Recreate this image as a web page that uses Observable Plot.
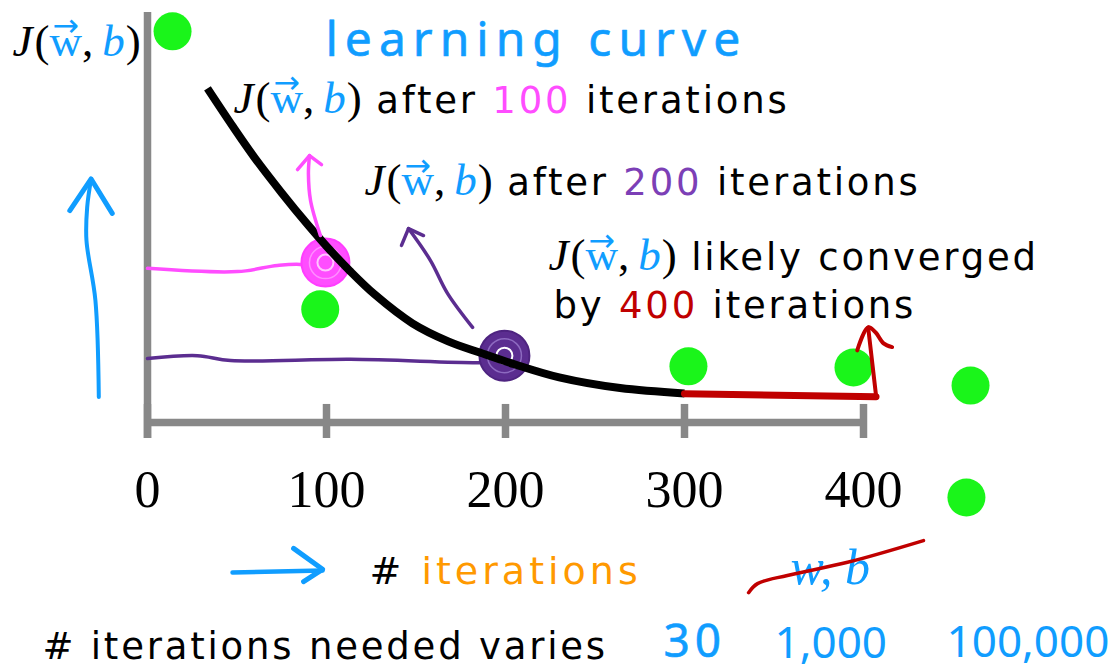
<!DOCTYPE html>
<html>
<head>
<meta charset="utf-8">
<script src="https://cdn.jsdelivr.net/npm/d3@7"></script>
<script src="https://cdn.jsdelivr.net/npm/@observablehq/plot@0.6"></script>
<style>
  html, body { margin: 0; padding: 0; background: #fff; }
  svg { display: block; }
</style>
</head>
<body>
<script>
// ---- iterations axis ----
const xTicks = [0, 100, 200, 300, 400];

// ---- learning curve: cost J(w,b) against # iterations ----
const curveIter = [33.5, 48, 60, 75, 90, 100, 113, 127, 148, 168, 186, 205, 230, 264, 300];
const curveCost = [8.15, 7.2, 6.45, 5.6, 4.8, 4.3, 3.7, 3.12, 2.42, 1.98, 1.7, 1.42, 1.1, 0.84, 0.71];

// flat tail once the cost has converged
const flatTail = [[300, 0.70], [407, 0.63]];
const flatArrow = [[407, 0.66], [402.6, 2.32]];
const flatArrowHead = [[396.5, 1.76], [402.6, 2.32], [406.7, 2.2], [411.2, 1.93], [416, 1.84]];

// checkpoints marked on the curve
const pinkCheck = [[99.4, 3.90]];
const purpleCheck = [[199.4, 1.63]];

// hand-drawn guides from the checkpoints back to the cost axis
const pinkGuide = [[0, 3.76], [50.3, 3.68], [72.6, 3.83], [87.2, 3.85], [103.9, 3.68]];
const purpleGuide = [[0, 1.56], [27.9, 1.63], [46.4, 1.51], [113.4, 1.54], [186, 1.46], [197.2, 1.49]];
const pinkArrow = [[96.6, 4.56], [91.1, 5.41], [89.9, 6.07], [90.5, 6.51]];
const pinkArrowHead = [[83.8, 6.17], [90.5, 6.51], [97.2, 6.29]];
const purpleArrow = [[181.6, 2.32], [167.6, 3.15], [158.1, 3.95], [145.8, 4.73]];
const purpleArrowHead = [[141.9, 4.32], [145.8, 4.73], [154.2, 4.56]];

// axis direction arrows
const costArrow = [[-27.2, 0.62], [-29.1, 2.98], [-34.1, 4.44], [-33.7, 5.25], [-31.5, 5.94]];
const costArrowHead = [[-43.4, 5.17], [-31.5, 5.94], [-19.7, 5.10]];
const iterArrow = [[47.5, -3.66], [97.8, -3.61]];
const iterArrowHead = [[81.6, -3.07], [97.8, -3.58], [87.2, -3.88]];

// strike-through over "w, b"
const strike = [[335.8, -4.15], [340.8, -3.93], [357.5, -3.73], [391.1, -3.41], [433.5, -2.88]];

// green dots
const dotIter = [14, 96.5, 302.2, 394.4, 459.8, 457.5];
const dotCost = [9.54, 2.76, 1.37, 1.34, 0.90, -1.83];

// axis extents
const costAxisSpan = [-0.39, 10];
const tickSpan = [-0.39, 0.44];
const tickLabelCost = -2.07;

// ---- text ----
const noteIter = [48, 121.2, 224, 226.8, -58.7];
const noteCost = [7.56, 5.54, 3.71, 2.54, -5.76];
const noteText = [
  "{J} after {pink:100} iterations",
  "{J} after {purple:200} iterations",
  "{J} likely converged",
  "by {red:400} iterations",
  "# iterations needed varies"
];
const costLabel = {iter: -75.4, cost: 8.95, text: "{J}"};
const axisTitle = {iter: 124, cost: -3.93, text: "# {orange:iterations}"};
const paramsLabel = {iter: 359.2, cost: -3.93, text: "w, b"};
const titleLabel = {iter: 99.4, cost: 8.95, text: "learning curve"};
const fewCount = {iter: 288.3, cost: -5.72, text: "30"};
const countIter = [350.3, 446.4];
const countCost = [-5.74, -5.72];
const countText = ["1,000", "100,000"];

const BLUE = "#109dff";
const GREY = "#888888";
const PINK = "#ff4dff";
const PURPLE = "#5b2d90";
const RED = "#c00000";
const GREEN = "#1af51a";
const tokenColors = {pink: PINK, purple: "#7c3fb6", red: RED, orange: "#ff9900"};

// letter spacing per text size group (px)
const tracking = {"37": 2.8, "38": 4, "48": 7, "46": 5, "44": 0};

const idx = (a) => a.map((_, i) => i);
const hand = {strokeLinecap: "round", strokeLinejoin: "round", curve: "catmull-rom"};

const chart = Plot.plot({
  width: 1113,
  height: 671,
  marginLeft: 147,
  marginRight: 250,
  marginTop: 12,
  marginBottom: 249,
  x: {domain: [0, 400], axis: null},
  y: {domain: [0, 10], axis: null},
  style: {background: "#fff", color: "#000", overflow: "visible"},
  marks: [
    // axes
    Plot.ruleX([0], {y1: costAxisSpan[0], y2: costAxisSpan[1], stroke: GREY, strokeWidth: 7.5}),
    Plot.ruleY([0], {x1: 0, x2: 400, stroke: GREY, strokeWidth: 7.5}),
    Plot.ruleX(xTicks, {x: d => d, y1: tickSpan[0], y2: tickSpan[1], stroke: GREY, strokeWidth: 7.5}),
    Plot.text(xTicks, {x: d => d, y: tickLabelCost, text: d => String(d), lineAnchor: "bottom",
      fontFamily: "Liberation Serif", fontSize: 52, fill: "#000"}),

    // guides and checkpoint scribbles
    Plot.line(pinkGuide, {...hand, stroke: PINK, strokeWidth: 3.5}),
    Plot.line(purpleGuide, {...hand, stroke: PURPLE, strokeWidth: 3.5}),
    Plot.dot(pinkCheck, {r: 24, fill: PINK, stroke: "#ff3dff", strokeWidth: 2}),
    Plot.dot(pinkCheck, {r: 16, fill: "none", stroke: "#ff8eff", strokeWidth: 1.5}),
    Plot.dot(pinkCheck, {r: 8, fill: "none", stroke: "#ffc4ff", strokeWidth: 2}),
    Plot.dot(purpleCheck, {r: 25, fill: PURPLE, stroke: "#4e2480", strokeWidth: 2}),
    Plot.dot(purpleCheck, {r: 17, fill: "none", stroke: "#8d6ac0", strokeWidth: 1.5}),
    Plot.dot(purpleCheck, {r: 8, fill: "none", stroke: "#ffffff", strokeWidth: 2}),

    // learning curve
    Plot.line(idx(curveIter), {x: i => curveIter[i], y: i => curveCost[i], curve: "catmull-rom",
      stroke: "#000", strokeWidth: 8, strokeLinecap: "butt"}),
    Plot.line(flatTail, {stroke: RED, strokeWidth: 7}),

    // annotation arrows
    Plot.line(pinkArrow, {...hand, stroke: PINK, strokeWidth: 3.5}),
    Plot.line(pinkArrowHead, {...hand, curve: "linear", stroke: PINK, strokeWidth: 3.5}),
    Plot.line(purpleArrow, {...hand, stroke: PURPLE, strokeWidth: 3.5}),
    Plot.line(purpleArrowHead, {...hand, curve: "linear", stroke: PURPLE, strokeWidth: 3.5}),
    Plot.line(costArrow, {...hand, stroke: BLUE, strokeWidth: 4}),
    Plot.line(costArrowHead, {...hand, curve: "linear", stroke: BLUE, strokeWidth: 5}),
    Plot.line(iterArrow, {...hand, stroke: BLUE, strokeWidth: 4.5}),
    Plot.line(iterArrowHead, {...hand, curve: "linear", stroke: BLUE, strokeWidth: 5}),

    // green dots
    Plot.dot(idx(dotIter), {x: i => dotIter[i], y: i => dotCost[i], r: 19, fill: GREEN}),

    Plot.line(flatArrow, {...hand, curve: "linear", stroke: RED, strokeWidth: 4}),
    Plot.line(flatArrowHead, {...hand, stroke: RED, strokeWidth: 4}),

    // text
    Plot.text(idx(noteText), {x: i => noteIter[i], y: i => noteCost[i], text: i => noteText[i],
      textAnchor: "start", lineAnchor: "bottom", fontFamily: "DejaVu Sans", fontSize: 37, fill: "#000"}),
    Plot.text([costLabel], {x: "iter", y: "cost", text: "text", textAnchor: "start", lineAnchor: "bottom",
      fontFamily: "DejaVu Sans", fontSize: 37, fill: "#000"}),
    Plot.text([axisTitle], {x: "iter", y: "cost", text: "text", textAnchor: "start", lineAnchor: "bottom",
      fontFamily: "DejaVu Sans", fontSize: 38, fill: "#000"}),
    Plot.text([paramsLabel], {x: "iter", y: "cost", text: "text", textAnchor: "start", lineAnchor: "bottom",
      fontFamily: "Liberation Serif", fontStyle: "italic", fontSize: 50, fill: BLUE}),
    Plot.line(strike, {...hand, stroke: RED, strokeWidth: 3.5}),
    Plot.text([titleLabel], {x: "iter", y: "cost", text: "text", textAnchor: "start", lineAnchor: "bottom",
      fontFamily: "Noto Sans", fontSize: 48, fill: BLUE, stroke: BLUE, strokeWidth: 0.6}),
    Plot.text([fewCount], {x: "iter", y: "cost", text: "text", textAnchor: "start", lineAnchor: "bottom",
      fontFamily: "Noto Sans", fontSize: 46, fill: BLUE, stroke: BLUE, strokeWidth: 0.6}),
    Plot.text(idx(countText), {x: i => countIter[i], y: i => countCost[i], text: i => countText[i],
      textAnchor: "start", lineAnchor: "bottom", fontFamily: "Noto Sans", fontSize: 44, fill: BLUE})
  ]
});

document.body.appendChild(chart);

// letter spacing by size group
for (const text of chart.querySelectorAll("text")) {
  const g = text.closest("g[font-size]");
  const size = g && g.getAttribute("font-size");
  if (size && tracking[size] != null) text.style.letterSpacing = tracking[size] + "px";
}

// Turn "{J}" and "{color:word}" markup into styled tspans.
const NS = "http://www.w3.org/2000/svg";
const FORMULA_SIZE = 45;

function addSpan(text, s, attrs = {}, style = {}) {
  const t = document.createElementNS(NS, "tspan");
  t.textContent = s;
  for (const [k, v] of Object.entries(attrs)) t.setAttribute(k, v);
  Object.assign(t.style, style);
  text.appendChild(t);
  return t;
}

function addFormula(text) {
  const serif = {"font-family": "Liberation Serif", "font-size": FORMULA_SIZE};
  const flat = {letterSpacing: "0px"};
  addSpan(text, "J", {...serif, "font-style": "italic", fill: "#000"}, flat);
  addSpan(text, "(", {...serif, fill: "#000", dx: 2}, flat);
  const w = addSpan(text, "w", {...serif, fill: BLUE}, flat);
  const arrow = addSpan(text, "\u2192", {"font-family": "DejaVu Sans", "font-size": FORMULA_SIZE * 0.7, fill: BLUE}, flat);
  const comma = addSpan(text, ",", {...serif, fill: "#000"}, flat);
  addSpan(text, "\u2009", {...serif}, flat);
  addSpan(text, "b", {...serif, "font-style": "italic", fill: BLUE}, flat);
  addSpan(text, ")", {...serif, fill: "#000", dx: 1}, flat);
  return {w, arrow, comma};
}

const arrows = [];
for (const text of chart.querySelectorAll("text")) {
  const src = text.textContent;
  if (!src.includes("{")) continue;
  text.textContent = "";
  for (const part of src.split(/(\{[^}]*\})/).filter(Boolean)) {
    const m = part.match(/^\{(\w+)(?::(.*))?\}$/);
    if (!m) addSpan(text, part);
    else if (m[1] === "J") arrows.push(addFormula(text));
    else addSpan(text, m[2], {fill: tokenColors[m[1]]});
  }
}

// centre the vector arrow over the w
const lift = FORMULA_SIZE * 0.44;
for (const {w, arrow, comma} of arrows) {
  const ww = w.getComputedTextLength();
  const aw = arrow.getComputedTextLength();
  arrow.setAttribute("dx", -(ww + aw) / 2);
  arrow.setAttribute("dy", -lift);
  comma.setAttribute("dx", (ww - aw) / 2);
  comma.setAttribute("dy", lift);
}
</script>
</body>
</html>
